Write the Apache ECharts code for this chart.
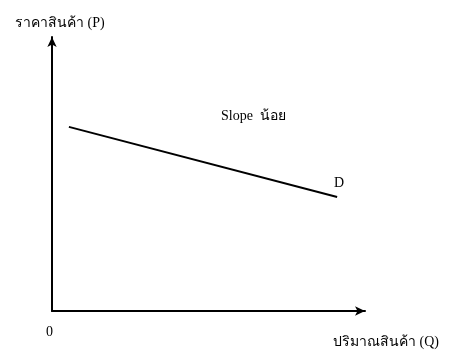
<!DOCTYPE html>
<html><head><meta charset="utf-8">
<script src="https://cdn.jsdelivr.net/npm/echarts@6/dist/echarts.min.js"></script>
<style>html,body{margin:0;padding:0;background:#fff}#c{width:449px;height:350px}</style>
</head><body><div id="c"></div>
<script>
const quantity = [5.4, 91.1];
const price = [67.2, 41.6];
const yTitle = 'ราคาสินค้า (P)';
const xTitle = 'ปริมาณสินค้า (Q)';
const curveName = 'D';
const slopeNote = 'Slope  น้อย';
const originLabel = '0';

const chart = echarts.init(document.getElementById('c'));
const font = '"Liberation Serif", "Times New Roman", serif';
chart.setOption({
  animation: false,
  textStyle: {fontFamily: font},
  grid: {left: 52, top: 37, width: 313, height: 274},
  xAxis: {type: 'value', min: 0, max: 100, splitLine: {show: false},
    axisTick: {show: false}, axisLabel: {show: false},
    axisLine: {lineStyle: {color: '#000', width: 2}, symbol: ['none', 'arrow'], symbolSize: [7, 10]}},
  yAxis: {type: 'value', min: 0, max: 100, splitLine: {show: false},
    axisTick: {show: false}, axisLabel: {show: false},
    axisLine: {lineStyle: {color: '#000', width: 2}, symbol: ['none', 'arrow'], symbolSize: [7, 10]}},
  series: [{
    type: 'line', data: quantity.map((q, i) => [q, price[i]]), symbol: 'none',
    lineStyle: {color: '#000', width: 2}
  }],
  graphic: [
    {type: 'text', left: 15, top: 16, style: {text: yTitle, font: '14px ' + font, fill: '#000'}},
    {type: 'text', left: 333, top: 335, style: {text: xTitle, font: '14px ' + font, fill: '#000'}},
    {type: 'text', left: 46, top: 325, style: {text: originLabel, font: '14px ' + font, fill: '#000'}},
    {type: 'text', left: 334, top: 176, style: {text: curveName, font: '14px ' + font, fill: '#000'}},
    {type: 'text', left: 221, top: 109, style: {text: slopeNote, font: '14px ' + font, fill: '#000'}}
  ]
});
</script></body></html>
